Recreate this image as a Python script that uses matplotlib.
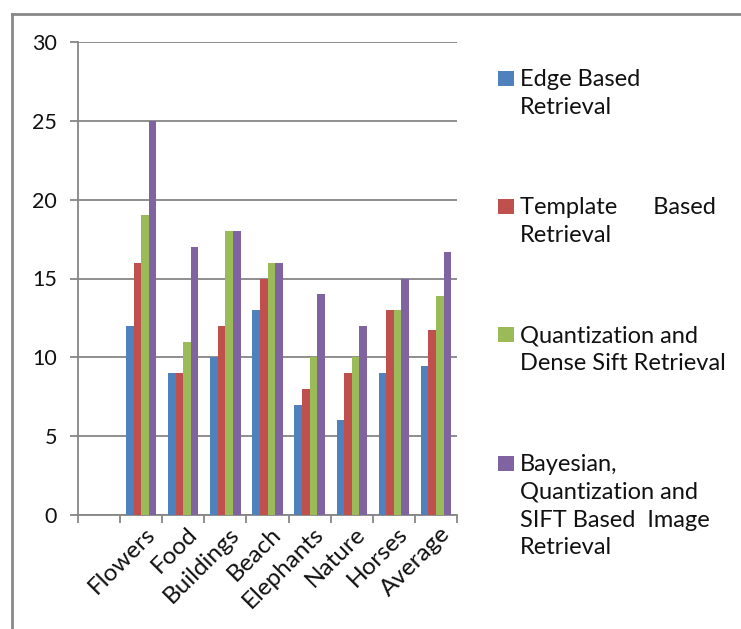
import matplotlib
matplotlib.use("Agg")
import matplotlib.pyplot as plt
from matplotlib.lines import Line2D
from matplotlib.patches import Rectangle
import matplotlib.transforms as mtransforms
import numpy as np

plt.rcParams['font.family'] = ['Lato', 'DejaVu Sans']

# data
categories = ["", "Flowers", "Food", "Buildings", "Beach", "Elephants", "Nature", "Horses", "Average"]
edge_based = [12, 9, 10, 13, 7, 6, 9, 9.43]
template_based = [16, 9, 12, 15, 8, 9, 13, 11.71]
quant_dense_sift = [19, 11, 18, 16, 10, 10, 13, 13.86]
bayes_quant_sift = [25, 17, 18, 16, 14, 12, 15, 16.71]
series_names = ["Edge Based\nRetrieval",
                "Template      Based\nRetrieval",
                "Quantization and\nDense Sift Retrieval",
                "Bayesian,\nQuantization and\nSIFT Based  Image\nRetrieval"]
colors = ["#4F81BD", "#C0504D", "#9BBB59", "#8064A2"]

W, H = 741, 629
fig = plt.figure(figsize=(W / 100, H / 100), dpi=100)

# plot area in pixels
left, right, top, bottom = 78, 457, 42, 515
ax = fig.add_axes([left / W, 1 - bottom / H, (right - left) / W, (bottom - top) / H])

series = [edge_based, template_based, quant_dense_sift, bayes_quant_sift]
x = np.arange(1, len(categories))
bw = 0.18
for i, (vals, c) in enumerate(zip(series, colors)):
    ax.bar(x + (i - 1.5) * bw, vals, width=bw, color=c, linewidth=0, zorder=3)

ax.set_xlim(-0.5, len(categories) - 0.5)
ax.set_ylim(0, 30)
ax.set_yticks(range(0, 31, 5))
ax.yaxis.grid(True, color="#868686", linewidth=1.3, zorder=0)

for s in ["top", "right"]:
    ax.spines[s].set_visible(False)
for s in ["left", "bottom"]:
    ax.spines[s].set_color("#868686")
    ax.spines[s].set_linewidth(1.3)

ax.tick_params(axis="y", length=6, width=1.3, color="#868686", pad=9,
               labelsize=15.5, labelcolor="#111111")

# category boundaries as tick marks, labels at centres
ax.set_xticks(np.arange(-0.5, len(categories), 1.0), minor=True)
ax.tick_params(axis="x", which="minor", length=6, width=1.3, color="#868686")
ax.set_xticks(np.arange(len(categories)))
ax.set_xticklabels(categories, rotation=45, ha="right", va="top",
                   rotation_mode="anchor", fontsize=17.5, color="#111111")
ax.tick_params(axis="x", which="major", length=0, pad=6)
offset = mtransforms.ScaledTranslation(3 / 100, 0, fig.dpi_scale_trans)
for lbl in ax.get_xticklabels():
    lbl.set_transform(lbl.get_transform() + offset)

# legend drawn by hand to keep the wide spacing
leg_tops = [70, 198, 326, 455]
for name, c, ty in zip(series_names, colors, leg_tops):
    fig.add_artist(Rectangle((498 / W, 1 - (ty + 16) / H), 16 / W, 15 / H,
                             transform=fig.transFigure, color=c, linewidth=0))
    fig.text(520 / W, 1 - (ty - 1) / H, name, fontsize=17, color="#111111",
             va="top", ha="left", linespacing=1.4)

# outer frame
fig.add_artist(Line2D([12 / W, 12 / W], [0, 1 - 14 / H], color="#888888",
                      linewidth=2, transform=fig.transFigure))
fig.add_artist(Line2D([12 / W, 1], [1 - 14 / H, 1 - 14 / H], color="#888888",
                      linewidth=2, transform=fig.transFigure))

fig.savefig("out.png", dpi=100)
